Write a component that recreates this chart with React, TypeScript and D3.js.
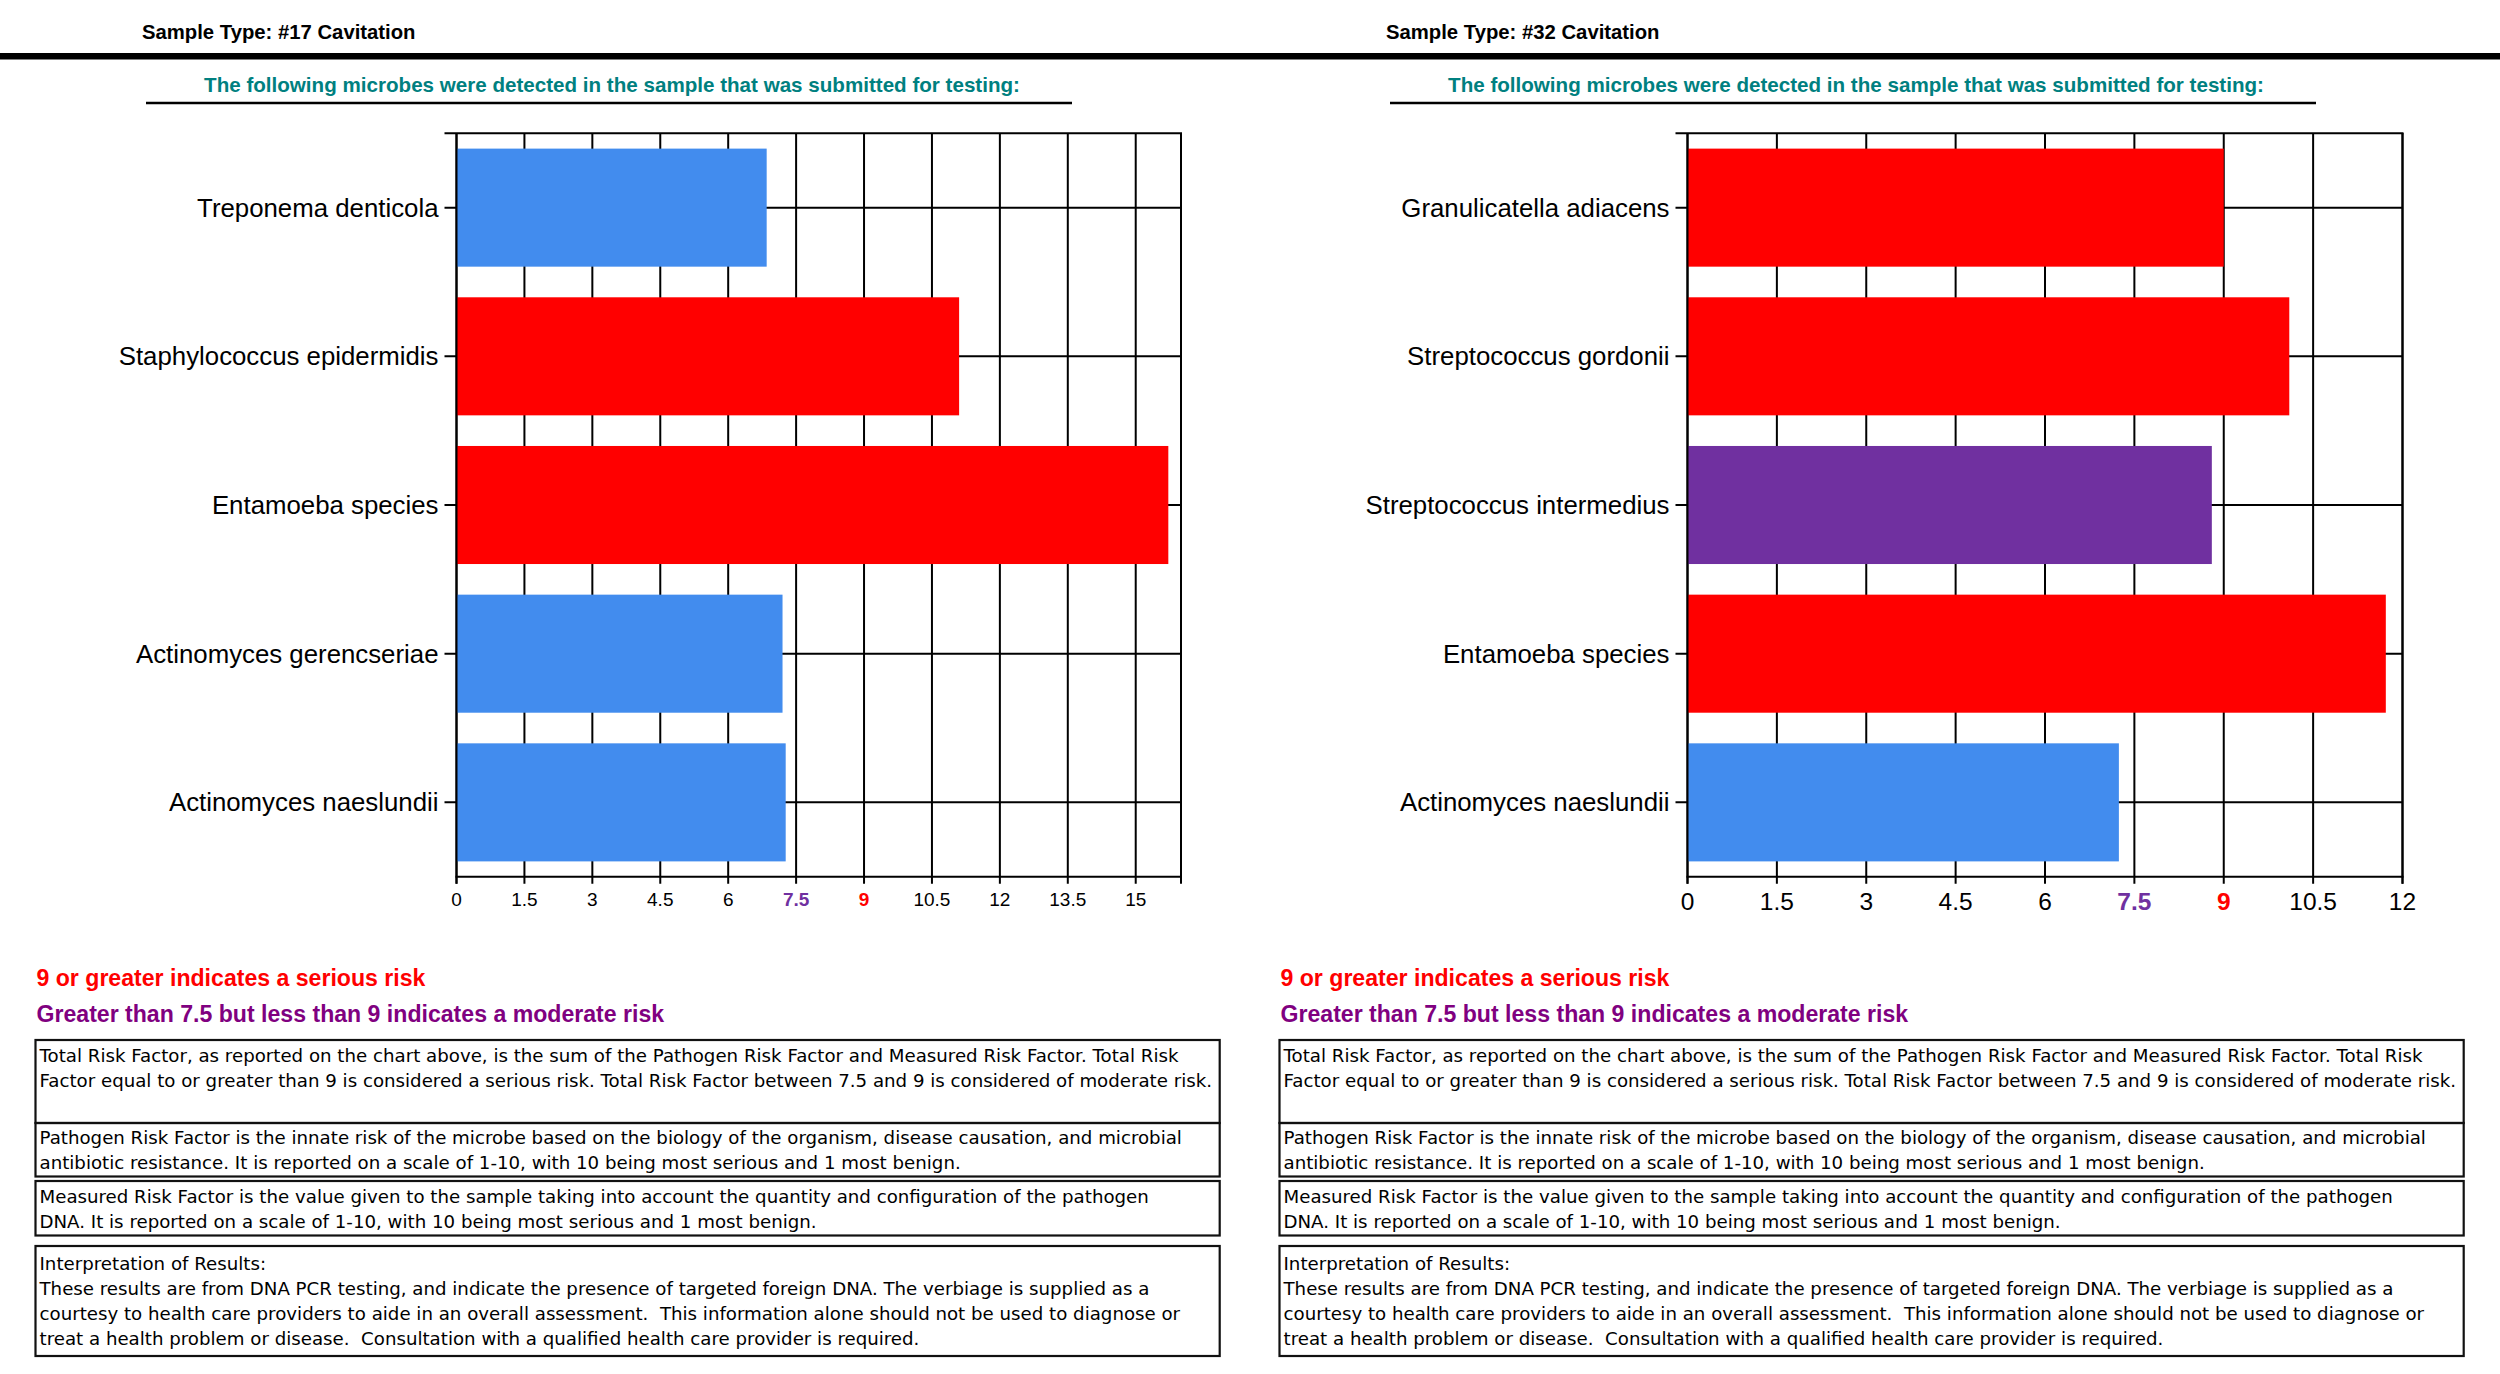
import React from "react";
import * as d3 from "d3";

// ---------- DATA ----------
const leftTitle = "Sample Type: #17 Cavitation";
const rightTitle = "Sample Type: #32 Cavitation";
const subtitle = "The following microbes were detected in the sample that was submitted for testing:";

const leftCategories = [
  "Treponema denticola",
  "Staphylococcus epidermidis",
  "Entamoeba species",
  "Actinomyces gerencseriae",
  "Actinomyces naeslundii",
];
const leftValues = [6.85, 11.1, 15.72, 7.2, 7.27];
const leftTicks = [0, 1.5, 3, 4.5, 6, 7.5, 9, 10.5, 12, 13.5, 15];
const leftMax = 16;

const rightCategories = [
  "Granulicatella adiacens",
  "Streptococcus gordonii",
  "Streptococcus intermedius",
  "Entamoeba species",
  "Actinomyces naeslundii",
];
const rightValues = [9.0, 10.1, 8.8, 11.72, 7.24];
const rightTicks = [0, 1.5, 3, 4.5, 6, 7.5, 9, 10.5, 12];
const rightMax = 12;

const seriousThreshold = 9;
const moderateThreshold = 7.5;

const legendSerious = "9 or greater indicates a serious risk";
const legendModerate = "Greater than 7.5 but less than 9 indicates a moderate risk";

const boxTexts: string[][] = [
  [
    "Total Risk Factor, as reported on the chart above, is the sum of the Pathogen Risk Factor and Measured Risk Factor. Total Risk",
    "Factor equal to or greater than 9 is considered a serious risk. Total Risk Factor between 7.5 and 9 is considered of moderate risk.",
  ],
  [
    "Pathogen Risk Factor is the innate risk of the microbe based on the biology of the organism, disease causation, and microbial",
    "antibiotic resistance. It is reported on a scale of 1-10, with 10 being most serious and 1 most benign.",
  ],
  [
    "Measured Risk Factor is the value given to the sample taking into account the quantity and configuration of the pathogen",
    "DNA. It is reported on a scale of 1-10, with 10 being most serious and 1 most benign.",
  ],
  [
    "Interpretation of Results:",
    "These results are from DNA PCR testing, and indicate the presence of targeted foreign DNA. The verbiage is supplied as a",
    "courtesy to health care providers to aide in an overall assessment.  This information alone should not be used to diagnose or",
    "treat a health problem or disease.  Consultation with a qualified health care provider is required.",
  ],
];

// ---------- STYLE ----------
const W = 2500;
const H = 1374;
const PANEL_OFFSET = 1244;
const FONT = "'Liberation Sans', Arial, Helvetica, sans-serif";
const BOX_FONT = "'DejaVu Sans', Verdana, sans-serif";
const RED = "#FF0000";
const PURPLE_BAR = "#7030A0";
const BLUE = "#428CEE";
const TEAL = "#008080";
const PURPLE_TEXT = "#800080";

const colorFor = (v: number) =>
  v >= seriousThreshold ? RED : v >= moderateThreshold ? PURPLE_BAR : BLUE;

const tickColor = (t: number) =>
  t === seriousThreshold ? RED : t === moderateThreshold ? PURPLE_BAR : "#000";

interface ChartProps {
  categories: string[];
  values: number[];
  ticks: number[];
  max: number;
  x0: number;
  x1: number;
  tickFont: number;
  tickBaseline: number;
}

function BarChart({ categories, values, ticks, max, x0, x1, tickFont, tickBaseline }: ChartProps) {
  const top = 133.3;
  const bottom = 876.7;
  const x = d3.scaleLinear().domain([0, max]).range([x0, x1]);
  const y = d3
    .scaleBand<string>()
    .domain(categories)
    .range([top, bottom])
    .paddingInner(0.206)
    .paddingOuter(0.103);
  const bw = y.bandwidth();
  const sw = 2;
  const allTickX = [...ticks, max];
  return (
    <g>
      {allTickX.map((t, i) => (
        <line key={"vg" + i} x1={x(t)} x2={x(t)} y1={top} y2={bottom + 7} stroke="#000" strokeWidth={sw} />
      ))}
      {categories.map((c) => {
        const cy = (y(c) as number) + bw / 2;
        return <line key={"hg" + c} x1={x0 - 12} x2={x1} y1={cy} y2={cy} stroke="#000" strokeWidth={sw} />;
      })}
      <line x1={x0 - 12} x2={x1 + 1} y1={top} y2={top} stroke="#000" strokeWidth={sw} />
      {categories.map((c, i) => (
        <rect
          key={"b" + c}
          x={x(0)}
          y={y(c) as number}
          width={x(values[i]) - x(0)}
          height={bw}
          fill={colorFor(values[i])}
        />
      ))}
      <line x1={x0} x2={x0} y1={top} y2={bottom + 7} stroke="#000" strokeWidth={sw} />
      <line x1={x0 - 1} x2={x1 + 1} y1={bottom} y2={bottom} stroke="#000" strokeWidth={sw} />
      {categories.map((c) => {
        const cy = (y(c) as number) + bw / 2;
        return (
          <text
            key={"cl" + c}
            x={x0 - 18}
            y={cy}
            dy="0.35em"
            textAnchor="end"
            fontFamily={FONT}
            fontSize={25.8}
            fill="#000"
          >
            {c}
          </text>
        );
      })}
      {ticks.map((t, i) => {
        const special = t === seriousThreshold || t === moderateThreshold;
        return (
          <text
            key={"tl" + i}
            x={x(t)}
            y={tickBaseline}
            textAnchor="middle"
            fontFamily={FONT}
            fontSize={tickFont}
            fontWeight={special ? "bold" : "normal"}
            fill={tickColor(t)}
          >
            {String(t)}
          </text>
        );
      })}
    </g>
  );
}

function Panel({ offset, title }: { offset: number; title: string }) {
  const boxX0 = 35.5;
  const boxX1 = 1219.7;
  const boxes = [
    { y0: 1040, y1: 1123, base: [1061.5, 1086.5] },
    { y0: 1123, y1: 1176.5, base: [1144, 1168.5] },
    { y0: 1181, y1: 1235.5, base: [1203, 1227.5] },
    { y0: 1246, y1: 1356, base: [1269.5, 1294.5, 1319.5, 1345] },
  ];
  return (
    <g transform={`translate(${offset},0)`}>
      <text x={142} y={39} fontFamily={FONT} fontWeight="bold" fontSize={20.3} fill="#000">
        {title}
      </text>
      <text x={612} y={92} textAnchor="middle" fontFamily={FONT} fontWeight="bold" fontSize={20.6} fill={TEAL}>
        {subtitle}
      </text>
      <line x1={146} x2={1072} y1={103} y2={103} stroke="#000" strokeWidth={2.5} />
      <text x={36.5} y={985.5} fontFamily={FONT} fontWeight="bold" fontSize={23.1} fill={RED}>
        {legendSerious}
      </text>
      <text x={36.5} y={1021.5} fontFamily={FONT} fontWeight="bold" fontSize={23.1} fill={PURPLE_TEXT}>
        {legendModerate}
      </text>
      {boxes.map((b, bi) => (
        <g key={"box" + bi}>
          <rect x={boxX0} y={b.y0} width={boxX1 - boxX0} height={b.y1 - b.y0} fill="none" stroke="#111" strokeWidth={2.2} />
          {boxTexts[bi].map((line, li) => (
            <text
              key={li}
              x={39.5}
              y={b.base[li]}
              fontFamily={BOX_FONT}
              fontSize={18.2}
              fill="#000"
              style={{ whiteSpace: "pre" }}
            >
              {line}
            </text>
          ))}
        </g>
      ))}
    </g>
  );
}

export default function App() {
  return (
    <svg
      width={W}
      height={H}
      viewBox={`0 0 ${W} ${H}`}
      style={{ position: "absolute", left: 0, top: 0, background: "#fff" }}
    >
      <rect x={0} y={0} width={W} height={H} fill="#fff" />
      <rect x={0} y={53} width={W} height={6.5} fill="#000" />
      <Panel offset={0} title={leftTitle} />
      <Panel offset={PANEL_OFFSET} title={rightTitle} />
      <BarChart
        categories={leftCategories}
        values={leftValues}
        ticks={leftTicks}
        max={leftMax}
        x0={456.5}
        x1={1181}
        tickFont={19}
        tickBaseline={906}
      />
      <BarChart
        categories={rightCategories}
        values={rightValues}
        ticks={rightTicks}
        max={rightMax}
        x0={1687.5}
        x1={2402.5}
        tickFont={24.5}
        tickBaseline={910}
      />
    </svg>
  );
}
